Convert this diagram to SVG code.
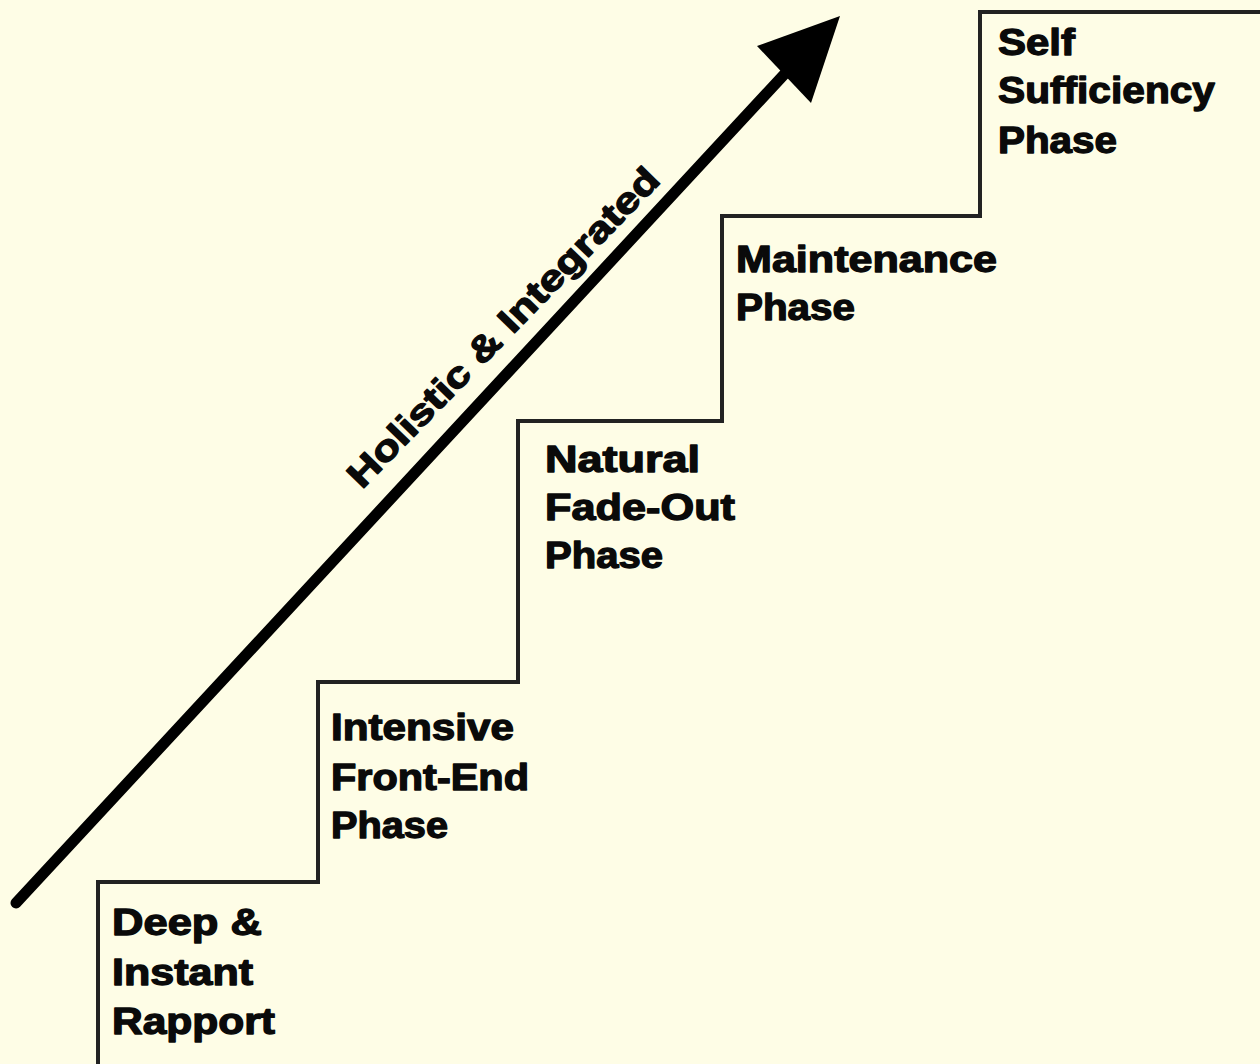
<svg xmlns="http://www.w3.org/2000/svg" width="1260" height="1064" viewBox="0 0 1260 1064">
  <style>
    .bg { fill: #FEFDE6; }
    .stair { fill: none; stroke: #222; stroke-width: 4; stroke-linejoin: miter; }
    .lbl { font-family: "Liberation Sans", Arial, sans-serif; font-weight: 900; font-size: 36px; fill: #0a0a0a; stroke: #0a0a0a; stroke-width: 1.3; stroke-linejoin: round; }
    .arrow-line { stroke: #000; stroke-width: 11; stroke-linecap: round; fill: none; }
    .arrow-head { fill: #000; }
  </style>
  <rect class="bg" x="0" y="0" width="1260" height="1064"/>

  <g id="stairs">
    <path class="stair" d="M98,1064 V882 H318 V682 H518 V421 H722 V216 H980 V12 H1260"/>
  </g>

  <g id="connectors">
    <line class="arrow-line" x1="16" y1="903" x2="792" y2="66"/>
    <polygon class="arrow-head" points="840,16 757,46 811,103"/>
    <text class="lbl" transform="translate(362,490) rotate(-45.8)" textLength="430" lengthAdjust="spacingAndGlyphs">Holistic &amp; Integrated</text>
  </g>

  <g id="step1">
    <text class="lbl" x="112" y="935" textLength="150" lengthAdjust="spacingAndGlyphs">Deep &amp;</text>
    <text class="lbl" x="112" y="985" textLength="141" lengthAdjust="spacingAndGlyphs">Instant</text>
    <text class="lbl" x="112" y="1034" textLength="163" lengthAdjust="spacingAndGlyphs">Rapport</text>
  </g>

  <g id="step2">
    <text class="lbl" x="331" y="740" textLength="183" lengthAdjust="spacingAndGlyphs">Intensive</text>
    <text class="lbl" x="331" y="790" textLength="198" lengthAdjust="spacingAndGlyphs">Front-End</text>
    <text class="lbl" x="331" y="838" textLength="117" lengthAdjust="spacingAndGlyphs">Phase</text>
  </g>

  <g id="step3">
    <text class="lbl" x="545" y="472" textLength="155" lengthAdjust="spacingAndGlyphs">Natural</text>
    <text class="lbl" x="545" y="520" textLength="190" lengthAdjust="spacingAndGlyphs">Fade-Out</text>
    <text class="lbl" x="545" y="568" textLength="118" lengthAdjust="spacingAndGlyphs">Phase</text>
  </g>

  <g id="step4">
    <text class="lbl" x="736" y="272" textLength="261" lengthAdjust="spacingAndGlyphs">Maintenance</text>
    <text class="lbl" x="736" y="320" textLength="119" lengthAdjust="spacingAndGlyphs">Phase</text>
  </g>

  <g id="step5">
    <text class="lbl" x="998" y="55" textLength="77" lengthAdjust="spacingAndGlyphs">Self</text>
    <text class="lbl" x="998" y="103" textLength="217" lengthAdjust="spacingAndGlyphs">Sufficiency</text>
    <text class="lbl" x="998" y="153" textLength="119" lengthAdjust="spacingAndGlyphs">Phase</text>
  </g>
</svg>
